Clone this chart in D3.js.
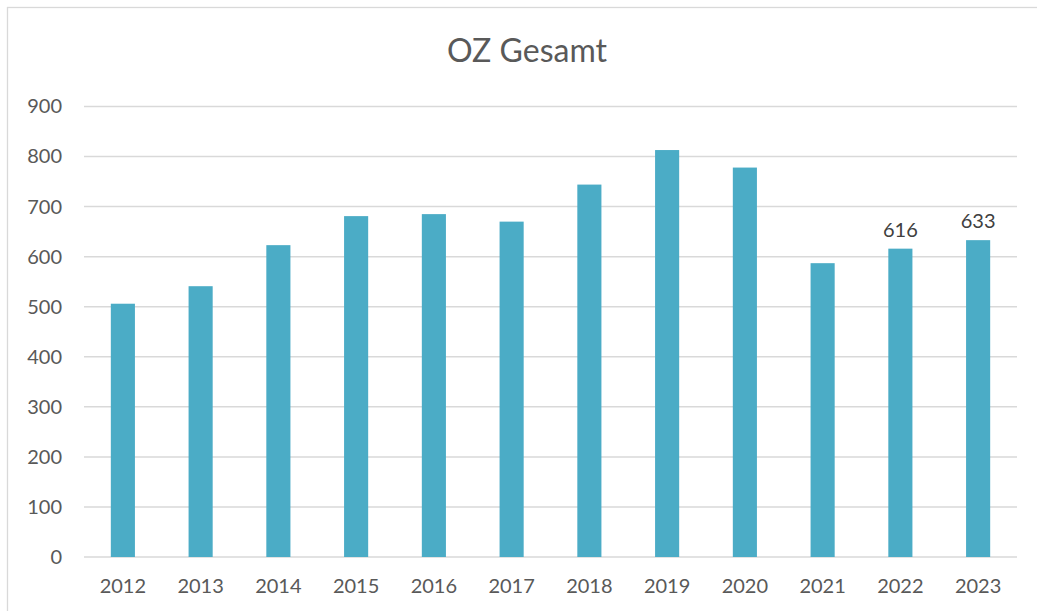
<!DOCTYPE html>
<html>
<head>
<meta charset="utf-8">
<script src="https://cdn.jsdelivr.net/npm/d3@7"></script>
<style>
  body { margin: 0; background: #fff; }
  svg { display: block; font-family: Lato, "Open Sans", sans-serif; }
  .tick text { fill: #595959; font-size: 20px; font-family: Lato, "Open Sans", sans-serif; }
  .domain { display: none; }
</style>
</head>
<body>
<div id="chart"></div>
<script>
// chart data
var years = ['2012', '2013', '2014', '2015', '2016', '2017', '2018', '2019', '2020', '2021', '2022', '2023'];
var values = [506, 541, 623, 681, 685, 670, 744, 813, 778, 587, 616, 633];
var labelled = ['2022', '2023'];
var yTicks = [0, 100, 200, 300, 400, 500, 600, 700, 800, 900];

var W = 1037, H = 611;
var margin = { top: 106.5, right: 20, bottom: 54, left: 84 };
var width = W - margin.left - margin.right,
    height = H - margin.top - margin.bottom;

var svg = d3.select('#chart')
  .append('svg')
  .attr('width', W)
  .attr('height', H);

// outer chart border (only top/left visible in the crop)
svg.append('rect')
  .attr('x', 7.5)
  .attr('y', 7.5)
  .attr('width', W + 20)
  .attr('height', H + 20)
  .attr('fill', 'none')
  .attr('stroke', '#d9d9d9')
  .attr('stroke-width', 1.3);

svg.append('text')
  .attr('x', 527)
  .attr('y', 62)
  .attr('text-anchor', 'middle')
  .attr('fill', '#595959')
  .style('font-size', '32px')
  .text('OZ Gesamt');

var g = svg.append('g')
  .attr('transform', 'translate(' + margin.left + ',' + margin.top + ')');

var x = d3.scaleBand()
  .domain(years)
  .range([0, width])
  .paddingInner(0.69)
  .paddingOuter(0.345);

var y = d3.scaleLinear()
  .domain([0, 900])
  .range([height, 0]);

// gridlines
g.selectAll('line.grid')
  .data(yTicks)
  .enter()
  .append('line')
  .attr('class', 'grid')
  .attr('x1', 0)
  .attr('x2', width)
  .attr('y1', function(d) { return y(d); })
  .attr('y2', function(d) { return y(d); })
  .attr('stroke', '#d9d9d9')
  .attr('stroke-width', 1.5);

var yAxis = d3.axisLeft(y)
  .tickValues(yTicks)
  .tickSize(0)
  .tickPadding(22);

g.append('g')
  .attr('class', 'y axis')
  .call(yAxis);

var xAxis = d3.axisBottom(x)
  .tickSize(0)
  .tickPadding(22);

g.append('g')
  .attr('class', 'x axis')
  .attr('transform', 'translate(0,' + height + ')')
  .call(xAxis);

g.selectAll('rect.bar')
  .data(years)
  .enter()
  .append('rect')
  .attr('class', 'bar')
  .attr('x', function(d) { return x(d); })
  .attr('width', x.bandwidth())
  .attr('y', function(d, i) { return y(values[i]); })
  .attr('height', function(d, i) { return height - y(values[i]); })
  .attr('fill', '#4bacc6');

// value labels for the last two years
g.selectAll('text.val')
  .data(years.filter(function(d) { return labelled.indexOf(d) > -1; }))
  .enter()
  .append('text')
  .attr('class', 'val')
  .attr('x', function(d) { return x(d) + x.bandwidth() / 2; })
  .attr('y', function(d) { return y(values[years.indexOf(d)]) - 12; })
  .attr('text-anchor', 'middle')
  .attr('fill', '#404040')
  .style('font-size', '20px')
  .text(function(d) { return values[years.indexOf(d)]; });
</script>
</body>
</html>
